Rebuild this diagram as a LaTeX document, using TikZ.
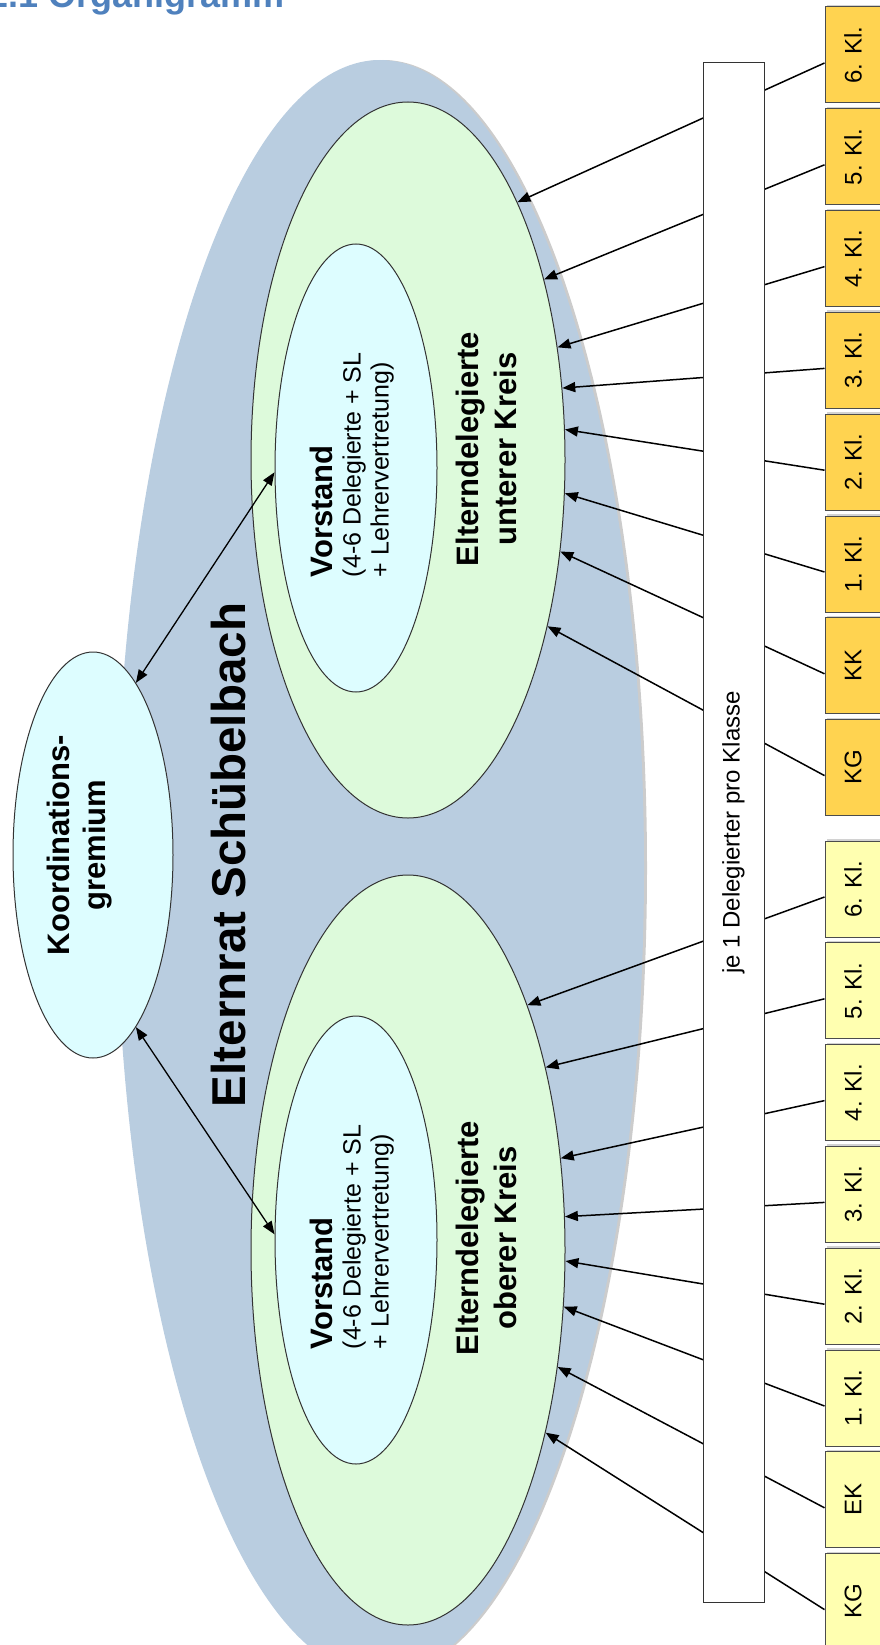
\documentclass[tikz,border=0pt]{standalone}
\usepackage{fontspec}
\setmainfont{Liberation Sans}
\usetikzlibrary{shapes.geometric, arrows.meta, shadows}

\definecolor{ratblue}{RGB}{185,205,224}
\definecolor{kreisgreen}{RGB}{221,250,219}
\definecolor{vorstandcyan}{RGB}{221,253,255}
\definecolor{unterorange}{RGB}{255,211,80}
\definecolor{oberyellow}{RGB}{255,255,176}
\definecolor{titleblue}{RGB}{79,129,189}

\newcommand\boxwidth{56pt}
\newcommand\boxheight{96pt}
\newcommand\boxspacing{101.8pt}

\tikzstyle{rat} = [ellipse, minimum width=528pt, minimum height=1616pt, fill=ratblue, inner sep=0pt]
\tikzstyle{kreis} = [ellipse, minimum width=314pt, minimum height=730pt, draw=black!80, line width=1pt, fill=kreisgreen, inner sep=0pt]
\tikzstyle{vorstand} = [ellipse, minimum width=162pt, minimum height=448pt, draw=black!80, line width=1pt, fill=vorstandcyan, inner sep=0pt]
\tikzstyle{gremium} = [ellipse, minimum width=160pt, minimum height=406pt, draw=black!80, line width=1pt, fill=vorstandcyan, inner sep=0pt]
\tikzstyle{klasse} = [rectangle, minimum width=\boxwidth, minimum height=\boxheight, draw=black!70, line width=1pt, inner sep=0pt, drop shadow={shadow xshift=2pt, shadow yshift=2pt, fill=black!35}, font=\fontsize{24}{28}\selectfont]
\tikzstyle{unterklasse} = [klasse, fill=unterorange]
\tikzstyle{oberklasse} = [klasse, fill=oberyellow]
\tikzstyle{leiste} = [rectangle, minimum width=61pt, minimum height=1539pt, draw=black!80, line width=1pt, fill=white, inner sep=0pt, font=\fontsize{24}{28}\selectfont]
\tikzstyle{arrow} = [line width=1.5pt, -{Triangle[length=13pt,width=10pt]}]
\tikzstyle{doublearrow} = [line width=1.3pt, {Triangle[length=13pt,width=10pt]}-{Triangle[length=13pt,width=10pt]}]

\begin{document}
\begin{tikzpicture}[x=1pt, y=-1pt, node distance=\boxspacing]

            \useasboundingbox (0,0) rectangle (879,1645);

            \node (titel) [anchor=base west, inner sep=0pt, text=titleblue, font=\fontsize{36}{40}\selectfont\bfseries] at (-12,8) {2.1 Organigramm};

            \node (schatten) [rat, fill=black!20, xshift=3pt] at (380,868) {};
            \node (rat) [rat] at (380,868) {};
            \node (unten) [kreis, minimum height=716pt] at (408,460) {};
            \node (oben) [kreis, minimum height=750pt] at (408,1250) {};
            \node (vorstandU) [vorstand] at (356,468) {};
            \node (vorstandO) [vorstand] at (356,1240) {};
            \node (koord) [gremium] at (93,855) {};

            \node (ratText) [rotate=90, font=\fontsize{47.5}{52}\selectfont\bfseries] at (229,855) {Elternrat Schübelbach};
            \node (koordText) [rotate=90, align=center, font=\fontsize{31}{36}\selectfont\bfseries] at (80,845) {Koordinations-\\gremium};
            \node (vorstandUText) [rotate=90, align=left, font=\fontsize{25}{28}\selectfont] at (352,465) {{\fontsize{31}{33}\selectfont\bfseries Vorstand}\\(4-6 Delegierte + SL\\+ Lehrervertretung)};
            \node (vorstandOText) [rotate=90, align=left, font=\fontsize{25}{28}\selectfont] at (352,1237) {{\fontsize{31}{33}\selectfont\bfseries Vorstand}\\(4-6 Delegierte + SL\\+ Lehrervertretung)};
            \node (untenText) [rotate=90, align=center, font=\fontsize{31}{38}\selectfont\bfseries] at (486,449) {Elterndelegierte\\unterer Kreis};
            \node (obenText) [rotate=90, align=center, font=\fontsize{31}{38}\selectfont\bfseries] at (486,1238) {Elterndelegierte\\oberer Kreis};

            % unterer Kreis
            \node (u6) [unterklasse] at (853,55) {\rotatebox{90}{6. Kl.}};
            \node (u5) [unterklasse, below of=u6] {\rotatebox{90}{5. Kl.}};
            \node (u4) [unterklasse, below of=u5] {\rotatebox{90}{4. Kl.}};
            \node (u3) [unterklasse, below of=u4] {\rotatebox{90}{3. Kl.}};
            \node (u2) [unterklasse, below of=u3] {\rotatebox{90}{2. Kl.}};
            \node (u1) [unterklasse, below of=u2] {\rotatebox{90}{1. Kl.}};
            \node (ukk) [unterklasse, below of=u1] {\rotatebox{90}{KK}};
            \node (ukg) [unterklasse, below of=ukk] {\rotatebox{90}{KG}};

            % oberer Kreis
            \node (o6) [oberklasse] at (853,889) {\rotatebox{90}{6. Kl.}};
            \node (o5) [oberklasse, below of=o6] {\rotatebox{90}{5. Kl.}};
            \node (o4) [oberklasse, below of=o5] {\rotatebox{90}{4. Kl.}};
            \node (o3) [oberklasse, below of=o4] {\rotatebox{90}{3. Kl.}};
            \node (o2) [oberklasse, below of=o3] {\rotatebox{90}{2. Kl.}};
            \node (o1) [oberklasse, below of=o2] {\rotatebox{90}{1. Kl.}};
            \node (oek) [oberklasse, below of=o1] {\rotatebox{90}{EK}};
            \node (okg) [oberklasse, below of=oek] {\rotatebox{90}{KG}};

            \draw [doublearrow] (koord.76) -- (vorstandU.183);
            \draw [doublearrow] (koord.284) -- (vorstandO.176);

            \draw [arrow] ([yshift=-8pt]u6.west) -- (unten.67);
            \draw [arrow] ([yshift=-8pt]u5.west) -- (unten.53);
            \draw [arrow] ([yshift=-8pt]u4.west) -- (unten.37);
            \draw [arrow] ([yshift=-8pt]u3.west) -- (unten.25);
            \draw [arrow] ([yshift=-8pt]u2.west) -- (unten.11);
            \draw [arrow] ([yshift=-8pt]u1.west) -- (unten.-12);
            \draw [arrow] ([yshift=-8pt]ukk.west) -- (unten.-31);
            \draw [arrow] ([yshift=-8pt]ukg.west) -- (unten.-50);

            \draw [arrow] ([yshift=-8pt]o6.west) -- (oben.64);
            \draw [arrow] ([yshift=-8pt]o5.west) -- (oben.53);
            \draw [arrow] ([yshift=-8pt]o4.west) -- (oben.31);
            \draw [arrow] ([yshift=-8pt]o3.west) -- (oben.12);
            \draw [arrow] ([yshift=-8pt]o2.west) -- (oben.-4);
            \draw [arrow] ([yshift=-8pt]o1.west) -- (oben.-20);
            \draw [arrow] ([yshift=-8pt]oek.west) -- (oben.-38);
            \draw [arrow] ([yshift=-8pt]okg.west) -- (oben.-53);

            \node (leiste) [leiste] at (733.5,832.5) {\rotatebox{90}{je 1 Delegierter pro Klasse}};

        \end{tikzpicture}
\end{document}
